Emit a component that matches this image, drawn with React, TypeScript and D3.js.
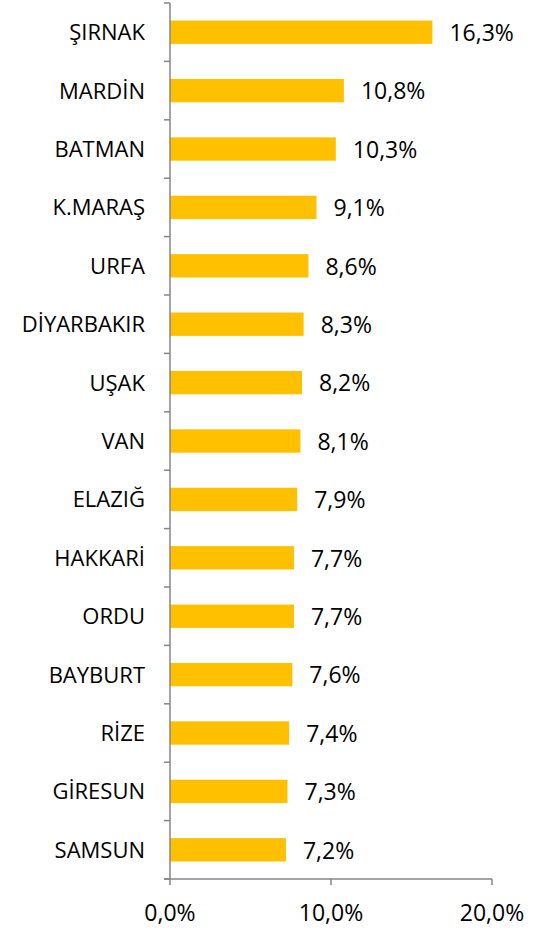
import React from "react";
import * as d3 from "d3";

const provinces = ["ŞIRNAK","MARDİN","BATMAN","K.MARAŞ","URFA","DİYARBAKIR","UŞAK","VAN","ELAZIĞ","HAKKARİ","ORDU","BAYBURT","RİZE","GİRESUN","SAMSUN"];
const rates = [16.3,10.8,10.3,9.1,8.6,8.3,8.2,8.1,7.9,7.7,7.7,7.6,7.4,7.3,7.2];
const xTicks = [0,10,20];

const W = 533, H = 929;
const left = 170, right = 492, top = 3, bottom = 879;
const font = "'Open Sans', sans-serif";
const fmt = (v: number) => v.toFixed(1).replace(".", ",") + "%";

export default function App() {
  const x = d3.scaleLinear().domain([0, 20]).range([left, right]);
  const y = d3.scaleBand<string>().domain(provinces).range([top, bottom]).paddingInner(0.6).paddingOuter(0.3);
  const bandStep = (bottom - top) / provinces.length;
  const axisColor = "#868686";
  return (
    <div style={{ position: "absolute", left: 0, top: 0 }}>
      <svg width={W} height={H} style={{ display: "block" }}>
        <rect width={W} height={H} fill="#fff" />
        {provinces.map((p, i) => (
          <g key={p}>
            <rect x={x(0)} y={y(p)!} width={x(rates[i]) - x(0)} height={y.bandwidth()} fill="#FFC000" />
            <text x={left - 25} y={y(p)! + y.bandwidth() / 2} dy="0.36em" textAnchor="end" fontFamily={font} fontSize={22} fill="#000">{p}</text>
            <text x={x(rates[i]) + 17} y={y(p)! + y.bandwidth() / 2} dy="0.38em" textAnchor="start" fontFamily={font} fontSize={23} fill="#000">{fmt(rates[i])}</text>
          </g>
        ))}
        {d3.range(provinces.length + 1).map(i => (
          <line key={"yt" + i} x1={left - 6} x2={left} y1={top + i * bandStep} y2={top + i * bandStep} stroke={axisColor} strokeWidth={1.5} />
        ))}
        <line x1={left} x2={left} y1={top} y2={bottom} stroke={axisColor} strokeWidth={1.5} />
        <line x1={left - 6} x2={right} y1={bottom} y2={bottom} stroke={axisColor} strokeWidth={1.5} />
        {xTicks.map(t => (
          <g key={"xt" + t}>
            <line x1={x(t)} x2={x(t)} y1={bottom} y2={bottom + 6} stroke={axisColor} strokeWidth={1.5} />
            <text x={x(t)} y={921} textAnchor="middle" fontFamily={font} fontSize={23} fill="#000">{fmt(t)}</text>
          </g>
        ))}
      </svg>
    </div>
  );
}
